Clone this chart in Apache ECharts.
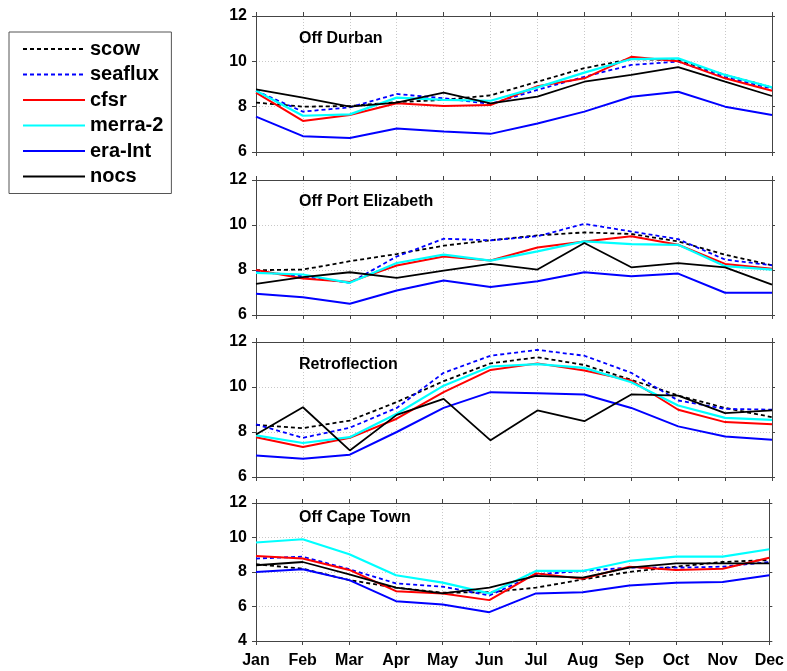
<!DOCTYPE html>
<html>
<head>
<meta charset="utf-8">
<script src="https://cdn.jsdelivr.net/npm/echarts@6/dist/echarts.min.js"></script>
<style>
  html, body { margin: 0; padding: 0; background: #fff; }
  #chart { width: 787px; height: 671px; }
</style>
</head>
<body>
<div id="chart"></div>
<script>
// Monthly climatology for four regions, six products
const months = ['Jan', 'Feb', 'Mar', 'Apr', 'May', 'Jun', 'Jul', 'Aug', 'Sep', 'Oct', 'Nov', 'Dec'];
const regions = ['Off Durban', 'Off Port Elizabeth', 'Retroflection', 'Off Cape Town'];
const products = ['scow', 'seaflux', 'cfsr', 'merra-2', 'era-Int', 'nocs'];

// Off Durban
const durbanScow    = [8.18, 8.0, 8.03, 8.2, 8.3, 8.5, 9.1, 9.7, 10.1, 10.05, 9.4, 8.85];
const durbanSeaflux = [8.7, 7.78, 7.97, 8.56, 8.37, 8.12, 8.74, 9.32, 9.84, 9.99, 9.3, 8.8];
const durbanCfsr    = [8.62, 7.37, 7.63, 8.15, 8.03, 8.07, 8.9, 9.25, 10.2, 10.0, 9.25, 8.7];
const durbanMerra   = [8.7, 7.6, 7.66, 8.4, 8.3, 8.26, 8.85, 9.5, 10.1, 10.13, 9.4, 8.85];
const durbanEra     = [7.56, 6.7, 6.62, 7.04, 6.9, 6.8, 7.26, 7.78, 8.44, 8.66, 8.0, 7.63];
const durbanNocs    = [8.76, 8.4, 8.0, 8.18, 8.62, 8.15, 8.44, 9.1, 9.4, 9.74, 9.1, 8.47];

// Off Port Elizabeth
const peScow    = [7.99, 8.02, 8.39, 8.71, 9.08, 9.32, 9.54, 9.67, 9.6, 9.27, 8.68, 8.21];
const peSeaflux = [7.94, 7.72, 7.43, 8.6, 9.39, 9.32, 9.5, 10.05, 9.71, 9.37, 8.46, 8.21];
const peCfsr    = [8.0, 7.62, 7.47, 8.2, 8.6, 8.42, 9.0, 9.27, 9.5, 9.12, 8.27, 8.06];
const peMerra   = [7.87, 7.8, 7.43, 8.31, 8.68, 8.42, 8.83, 9.27, 9.15, 9.12, 8.17, 8.02];
const peEra     = [6.94, 6.79, 6.5, 7.09, 7.53, 7.24, 7.5, 7.9, 7.72, 7.84, 6.99, 6.99];
const peNocs    = [7.38, 7.68, 7.9, 7.65, 7.97, 8.27, 8.02, 9.2, 8.12, 8.31, 8.12, 7.35];

// Retroflection
const retroScow    = [8.32, 8.17, 8.51, 9.33, 10.26, 11.05, 11.32, 10.98, 10.32, 9.62, 9.07, 8.66];
const retroSeaflux = [8.34, 7.74, 8.19, 9.07, 10.63, 11.39, 11.65, 11.39, 10.63, 9.4, 9.03, 8.99];
const retroCfsr    = [7.77, 7.33, 7.74, 8.59, 9.77, 10.76, 11.05, 10.73, 10.29, 8.99, 8.44, 8.34];
const retroMerra   = [7.85, 7.51, 7.77, 8.81, 10.06, 10.91, 11.02, 10.85, 10.21, 9.18, 8.63, 8.54];
const retroEra     = [6.96, 6.81, 6.99, 8.0, 9.07, 9.77, 9.72, 9.67, 9.07, 8.25, 7.8, 7.66];
const retroNocs    = [7.89, 9.1, 7.18, 8.76, 9.47, 7.63, 8.96, 8.48, 9.67, 9.62, 8.84, 8.96];

// Off Cape Town
const capeScow    = [8.45, 8.19, 7.53, 7.09, 6.8, 6.83, 7.09, 7.57, 8.0, 8.31, 8.58, 8.7];
const capeSeaflux = [8.78, 8.89, 8.16, 7.34, 7.15, 6.64, 7.86, 8.06, 8.25, 8.25, 8.31, 8.58];
const capeCfsr    = [8.93, 8.78, 8.12, 6.89, 6.76, 6.37, 7.92, 7.61, 8.31, 8.12, 8.19, 8.83];
const capeMerra   = [9.71, 9.9, 9.03, 7.81, 7.38, 6.76, 8.06, 8.06, 8.64, 8.89, 8.89, 9.32];
const capeEra     = [8.0, 8.16, 7.53, 6.31, 6.12, 5.67, 6.76, 6.83, 7.22, 7.38, 7.42, 7.81];
const capeNocs    = [8.39, 8.58, 7.86, 7.09, 6.76, 7.09, 7.77, 7.67, 8.25, 8.5, 8.5, 8.5];

const yMins = [6, 6, 6, 4];
const yMaxs = [12, 12, 12, 12];

const panelData = [
  [durbanScow, durbanSeaflux, durbanCfsr, durbanMerra, durbanEra, durbanNocs],
  [peScow, peSeaflux, peCfsr, peMerra, peEra, peNocs],
  [retroScow, retroSeaflux, retroCfsr, retroMerra, retroEra, retroNocs],
  [capeScow, capeSeaflux, capeCfsr, capeMerra, capeEra, capeNocs]
];

// Line appearance per product
const productStyle = {
  'scow':    { color: '#000000', type: [4, 3], width: 1.8 },
  'seaflux': { color: '#0000ff', type: [4, 3], width: 1.8 },
  'cfsr':    { color: '#ff0000', type: 'solid', width: 2 },
  'merra-2': { color: '#00ffff', type: 'solid', width: 2.2 },
  'era-Int': { color: '#0000ff', type: 'solid', width: 2 },
  'nocs':    { color: '#000000', type: 'solid', width: 1.8 }
};

const FONT = '"Liberation Sans", Arial, sans-serif';
const gridTops = [16, 180, 342, 503];
const gridHeights = [136, 135, 135, 138];
const titleCenters = [40, 203, 366, 519];
const frameColor = '#444';
const splitStyle = { show: true, lineStyle: { color: '#c8c8c8', type: [1, 2], width: 1 } };

const grids = [], xAxes = [], yAxes = [], series = [], titles = [];

regions.forEach((name, i) => {
  grids.push({ left: 256, right: 15, top: gridTops[i], height: gridHeights[i] });
  titles.push({
    text: name, left: 299, top: titleCenters[i] - 9,
    textStyle: { fontFamily: FONT, fontWeight: 'bold', fontSize: 16, color: '#000' },
    padding: 0
  });
  const last = i === regions.length - 1;
  // bottom axis
  xAxes.push({
    type: 'category', gridIndex: i, data: months, boundaryGap: false, position: 'bottom',
    axisLine: { lineStyle: { color: frameColor, width: 1 } },
    axisTick: { show: true, length: 4, interval: 0, lineStyle: { color: frameColor } },
    axisLabel: {
      show: last, interval: 0, margin: 12, color: '#000',
      fontFamily: FONT, fontWeight: 'bold', fontSize: 16
    },
    splitLine: Object.assign({ interval: 0 }, splitStyle)
  });
  // top frame axis
  xAxes.push({
    type: 'category', gridIndex: i, data: months, boundaryGap: false, position: 'top',
    axisLine: { lineStyle: { color: frameColor, width: 1 } },
    axisTick: { show: true, length: 4, interval: 0, lineStyle: { color: frameColor } },
    axisLabel: { show: false }, splitLine: { show: false }
  });
  // left value axis
  yAxes.push({
    type: 'value', gridIndex: i, min: yMins[i], max: yMaxs[i], interval: 2, position: 'left',
    axisLine: { show: true, lineStyle: { color: frameColor, width: 1 } },
    axisTick: { show: true, length: 4, lineStyle: { color: frameColor } },
    axisLabel: { margin: 9, color: '#000', fontFamily: FONT, fontWeight: 'bold', fontSize: 16 },
    splitLine: splitStyle
  });
  // right frame axis
  yAxes.push({
    type: 'value', gridIndex: i, min: yMins[i], max: yMaxs[i], interval: 2, position: 'right',
    axisLine: { show: true, lineStyle: { color: frameColor, width: 1 } },
    axisTick: { show: true, length: 3, lineStyle: { color: frameColor } },
    axisLabel: { show: false }, splitLine: { show: false }
  });

  products.forEach((p, k) => {
    const st = productStyle[p];
    series.push({
      name: p, type: 'line', xAxisIndex: i * 2, yAxisIndex: i * 2,
      data: panelData[i][k], symbol: 'none', showSymbol: false, silent: true,
      color: st.color,
      lineStyle: { color: st.color, type: st.type, width: st.width },
      animation: false
    });
  });
});

const chart = echarts.init(document.getElementById('chart'), null, { renderer: 'canvas' });
chart.setOption({
  backgroundColor: '#fff',
  animation: false,
  title: titles,
  legend: {
    data: products, orient: 'vertical', left: 9, top: 32,
    padding: [7, 8, 7, 13], itemWidth: 62, itemHeight: 20, itemGap: 5.5,
    borderColor: '#555', borderWidth: 1,
    selectedMode: false,
    itemStyle: { opacity: 0 },
    textStyle: { fontFamily: FONT, fontWeight: 'bold', fontSize: 20, color: '#000', lineHeight: 20 }
  },
  grid: grids, xAxis: xAxes, yAxis: yAxes, series: series
});
</script>
</body>
</html>
